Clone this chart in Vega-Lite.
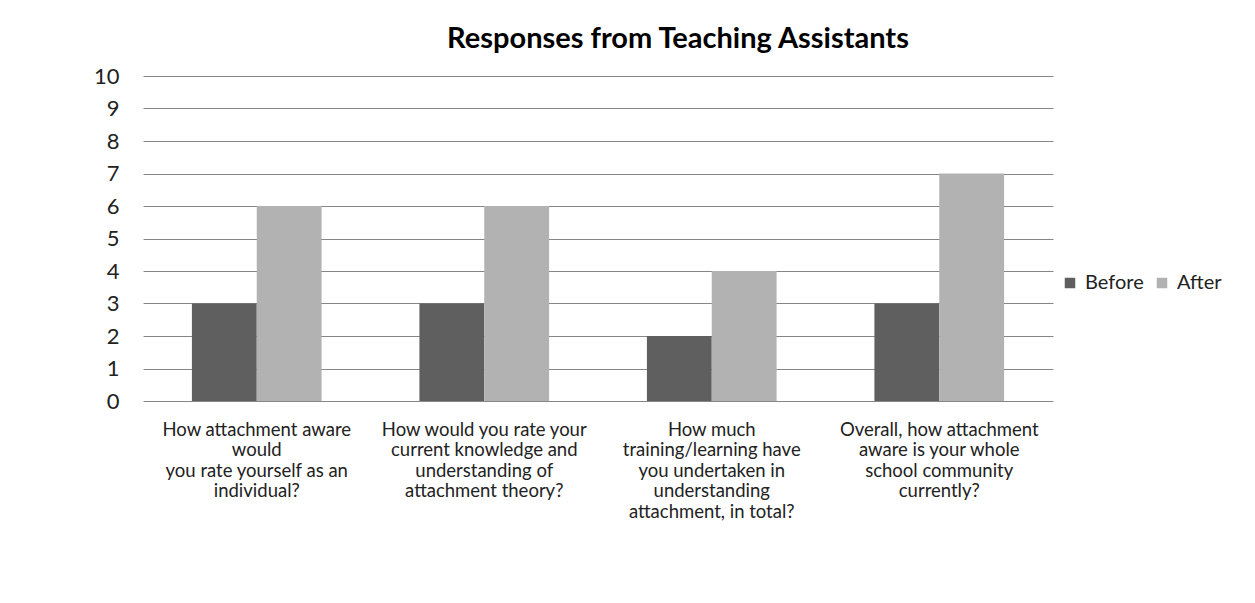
{
  "$schema": "https://vega.github.io/schema/vega-lite/v6.json",
  "width": 910,
  "height": 325,
  "autosize": {"type": "none"},
  "padding": {"left": 143, "top": 76, "right": 202, "bottom": 202},
  "background": "white",
  "title": {
    "text": "Responses from Teaching Assistants",
    "font": "Lato",
    "fontSize": 29,
    "fontWeight": "bold",
    "color": "#000000",
    "anchor": "middle",
    "dx": 80,
    "offset": 11
  },
  "data": {
    "values": [
      {"q": "How attachment aware|would|you rate yourself as an|individual?", "period": "Before", "value": 3, "order": 1},
      {"q": "How attachment aware|would|you rate yourself as an|individual?", "period": "After", "value": 6, "order": 1},
      {"q": "How would you rate your|current knowledge and|understanding of|attachment theory?", "period": "Before", "value": 3, "order": 2},
      {"q": "How would you rate your|current knowledge and|understanding of|attachment theory?", "period": "After", "value": 6, "order": 2},
      {"q": "How much|training/learning have|you undertaken in|understanding|attachment, in total?", "period": "Before", "value": 2, "order": 3},
      {"q": "How much|training/learning have|you undertaken in|understanding|attachment, in total?", "period": "After", "value": 4, "order": 3},
      {"q": "Overall, how attachment|aware is your whole|school community|currently?", "period": "Before", "value": 3, "order": 4},
      {"q": "Overall, how attachment|aware is your whole|school community|currently?", "period": "After", "value": 7, "order": 4}
    ]
  },
  "mark": {"type": "bar"},
  "encoding": {
    "x": {
      "field": "q",
      "type": "nominal",
      "sort": {"field": "order"},
      "scale": {"paddingInner": 0.43, "paddingOuter": 0.215},
      "axis": {
        "title": null,
        "labelAngle": 0,
        "labelExpr": "split(datum.label, '|')",
        "labelFont": "Lato",
        "labelFontSize": 18.5,
        "labelColor": "#222222",
        "labelLineHeight": 20.5,
        "labelPadding": 19,
        "ticks": false,
        "domain": false,
        "labelLimit": 300
      }
    },
    "xOffset": {"field": "period", "type": "nominal", "sort": ["Before", "After"]},
    "y": {
      "field": "value",
      "type": "quantitative",
      "scale": {"domain": [0, 10]},
      "axis": {
        "title": null,
        "values": [0,1,2,3,4,5,6,7,8,9,10],
        "labelOverlap": false,
        "grid": true,
        "gridColor": "#868686",
        "gridWidth": 1,
        "domain": false,
        "ticks": false,
        "labelFont": "Lato",
        "labelFontSize": 22,
        "labelColor": "#222222",
        "labelPadding": 24
      }
    },
    "color": {
      "field": "period",
      "type": "nominal",
      "sort": ["Before", "After"],
      "scale": {"domain": ["Before", "After"], "range": ["#5f5f5f", "#b2b2b2"]},
      "legend": {
        "title": null,
        "orient": "none",
        "direction": "horizontal",
        "legendX": 917,
        "legendY": 197,
        "symbolType": "square",
        "symbolSize": 110,
        "symbolStrokeWidth": 0,
        "labelFont": "Lato",
        "labelFontSize": 20,
        "labelColor": "#222222",
        "columnPadding": 8,
        "labelOffset": 5
      }
    }
  },
  "config": {"view": {"stroke": null}}
}
